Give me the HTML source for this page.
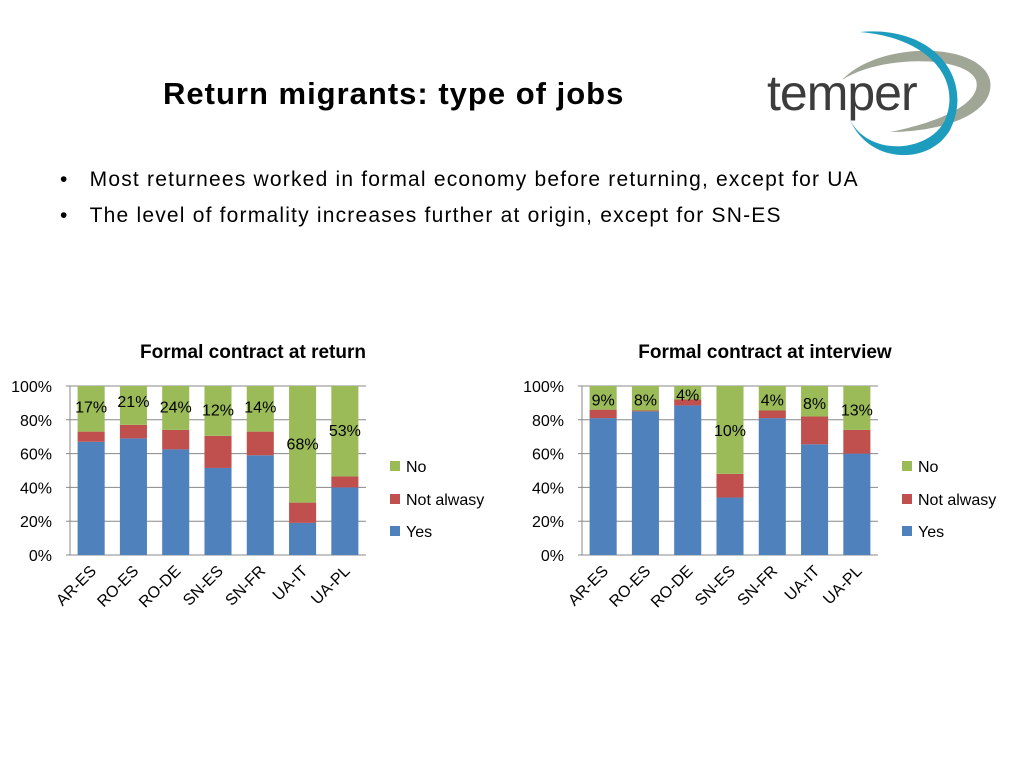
<!DOCTYPE html>
<html><head><meta charset="utf-8"><style>
body{margin:0;width:1024px;height:768px;background:#fff;font-family:"Liberation Sans",sans-serif;overflow:hidden;position:relative}
.t{position:absolute;white-space:nowrap;color:#000}
</style></head><body>
<div class="t" style="left:163px;top:76px;font-size:31px;font-weight:bold;letter-spacing:1px">Return migrants: type of jobs</div>
<svg style="position:absolute;left:750px;top:20px" width="250" height="145">
<path d="M92,60 C130,20 230,22 240,60 C246,95 190,112 140,112 C200,100 232,80 226,60 C215,35 130,35 92,60Z" fill="#a0a696"/>
<path d="M110,12 C185,5 225,60 200,110 C180,145 120,145 100,100 C120,138 180,132 195,100 C212,60 180,18 110,12Z" fill="#1d9cbd"/>
<text x="17" y="90" font-family="Liberation Sans,sans-serif" font-size="50" fill="#3c3c3c" letter-spacing="-1">temper</text>
</svg>
<div class="t" style="left:60px;top:168px;font-size:21px;letter-spacing:1.2px">•&nbsp;&nbsp;&nbsp;Most returnees worked in formal economy before returning, except for UA</div>
<div class="t" style="left:60px;top:204px;font-size:21px;letter-spacing:1.2px">•&nbsp;&nbsp;&nbsp;The level of formality increases further at origin, except for SN-ES</div>
<svg id="c" width="1024" height="768" style="position:absolute;left:0;top:0"></svg>
<script>
const categories=["AR-ES","RO-ES","RO-DE","SN-ES","SN-FR","UA-IT","UA-PL"];
const yesReturn=[67,69,62.5,51.5,59,19,40];
const notReturn=[6,8,11.5,19,14,12,6.5];
const labelsReturn=["17%","21%","24%","12%","14%","68%","53%"];
const labelYReturn=[88,91,88,86,88,66,74];
const yesInterview=[81,85,88.5,34,81,65.5,60];
const notInterview=[5,0.5,3.5,14,4.5,16.5,14];
const labelsInterview=["9%","8%","4%","10%","4%","8%","13%"];
const labelYInterview=[92,92,95,74,92,90,86];
const ticks=[0,20,40,60,80,100];
const svg=document.getElementById('c');
const NS='http://www.w3.org/2000/svg';
function mk(tag,at,txt){const e=document.createElementNS(NS,tag);for(const k in at)e.setAttribute(k,at[k]);if(txt!==undefined)e.textContent=txt;svg.appendChild(e);return e;}
function chart(x0,x1,title,tx,yes,na,labels,labelY,key){
  const y0=555,y1=386;const ys=v=>y0-(y0-y1)*v/100;const bw=(x1-x0)/categories.length;
  let t=mk('text',{x:tx,y:358,'font-size':19,'font-weight':'bold','text-anchor':'middle','font-family':'Liberation Sans,sans-serif'},title);
  
  
  ticks.forEach(v=>{
    const l=mk('line',{x1:x0-4,x2:x1,y1:ys(v),y2:ys(v),stroke:'#888','stroke-width':1});
    
    
    const tt=mk('text',{x:x0-18,y:ys(v)+6,'font-size':16,'text-anchor':'end','font-family':'Liberation Sans,sans-serif'},v+'%');
    
    
  });
  const ax=mk('line',{x1:x0,x2:x0,y1:y1,y2:y0,stroke:'#888'});
  
  
  categories.forEach((c,i)=>{
    const cx=x0+bw*(i+0.5),w=bw*0.64;
    const segs=[[0,yes[i],'#4f81bd','yes'],[yes[i],yes[i]+na[i],'#c0504d','not-always'],[yes[i]+na[i],100,'#9bbb59','no']];
    segs.forEach(s=>{
      const r=mk('rect',{x:cx-w/2,y:ys(s[1]),width:w,height:ys(s[0])-ys(s[1]),fill:s[2]});
      
      
    });
    const lb=mk('text',{x:cx,y:ys(labelY[i])+6,'font-size':16,'text-anchor':'middle','font-family':'Liberation Sans,sans-serif'},labels[i]);
    
    
    const xl=mk('text',{x:cx+6,y:572,'font-size':16,'text-anchor':'end','font-family':'Liberation Sans,sans-serif',transform:`rotate(-45 ${cx+6} 572)`},c);
    
    
  });
  [['No','#9bbb59',466],['Not alwasy','#c0504d',499],['Yes','#4f81bd',531]].forEach(L=>{
    const r=mk('rect',{x:x1+24,y:L[2]-5,width:10,height:10,fill:L[1]});
    
    
    const lt=mk('text',{x:x1+40,y:L[2]+6,'font-size':16,'font-family':'Liberation Sans,sans-serif'},L[0]);
    
    
  });
}
chart(70,366,'Formal contract at return',253,yesReturn,notReturn,labelsReturn,labelYReturn,'return');
chart(582,878,'Formal contract at interview',765,yesInterview,notInterview,labelsInterview,labelYInterview,'interview');
</script>
</body></html>
